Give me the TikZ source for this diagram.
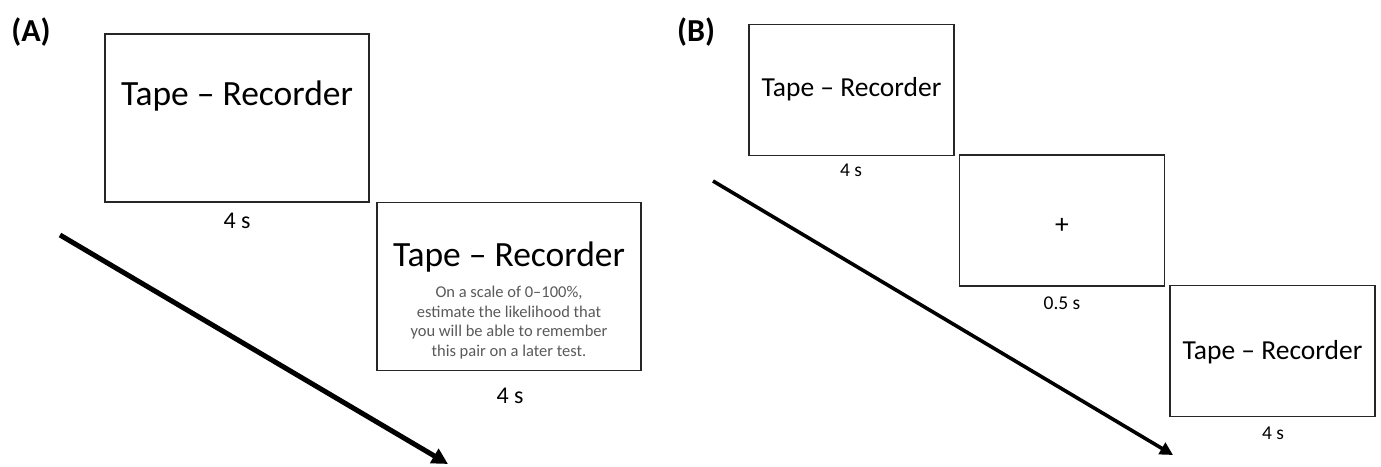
\documentclass[tikz,border=0pt]{standalone}
\usepackage{fontspec}
\setmainfont{Carlito}
\usetikzlibrary{arrows.meta}
\definecolor{txtgray}{HTML}{595959}
\tikzset{
  x=1pt, y=-1pt,
  screenA/.style={draw=black!85, line width=1.8pt, inner sep=0pt, minimum width=264pt, minimum height=168pt},
  screenB/.style={draw=black!85, line width=1.5pt, inner sep=0pt, minimum width=205pt, minimum height=131pt},
  bigtxt/.style={font=\fontsize{35.5}{40}\selectfont, inner sep=0pt},
  midtxt/.style={font=\fontsize{27.5}{32}\selectfont, inner sep=0pt},
  smalltxt/.style={font=\fontsize{16.5}{19.5}\selectfont, text=txtgray, align=center, inner sep=0pt},
  durA/.style={font=\fontsize{24}{28}\selectfont, inner sep=0pt},
  durB/.style={font=\fontsize{19.5}{22}\selectfont, inner sep=0pt},
  panel/.style={font=\fontsize{32}{36}\selectfont\bfseries, inner sep=0pt},
  timeA/.style={line width=5pt, -{Triangle[length=16pt, width=16pt]}},
  timeB/.style={line width=3.6pt, -{Triangle[length=13pt, width=13pt]}}
}
\begin{document}
\begin{tikzpicture}
\useasboundingbox (0,0) rectangle (1381,466);
% Panel A
\node[panel] (labA) at (31,32) {(A)};
\node[screenA] (a1) at (237,118) {};
\node[bigtxt] (a1t) at (237,96) {Tape -- Recorder};
\node[durA] (a1d) at (237,221) {4 s};
\node[screenA] (a2) at (509,286.5) {};
\node[bigtxt] (a2t) at (509,257) {Tape -- Recorder};
\node[smalltxt] (a2s) at (509,322.5) {On a scale of 0--100\%,\\estimate the likelihood that\\you will be able to remember\\this pair on a later test.};
\node[durA] (a2d) at (510,396) {4 s};
\coordinate (aS) at (60,235);
\coordinate (aE) at (448,464);
\draw[timeA] (aS) -- (aE);
% Panel B
\node[panel] (labB) at (696,32) {(B)};
\node[screenB] (b1) at (851.5,90) {};
\node[midtxt] (b1t) at (851.5,89) {Tape -- Recorder};
\node[durB] (b1d) at (851,170) {4 s};
\node[screenB] (b2) at (1062,220.5) {};
\node[midtxt] (b2t) at (1062,226) {+};
\node[durB] (b2d) at (1062,303) {0.5 s};
\node[screenB] (b3) at (1272.5,351) {};
\node[midtxt] (b3t) at (1272.5,352) {Tape -- Recorder};
\node[durB] (b3d) at (1273,433) {4 s};
\coordinate (bS) at (713,181);
\coordinate (bE) at (1173,455);
\draw[timeB] (bS) -- (bE);
\end{tikzpicture}
\end{document}
